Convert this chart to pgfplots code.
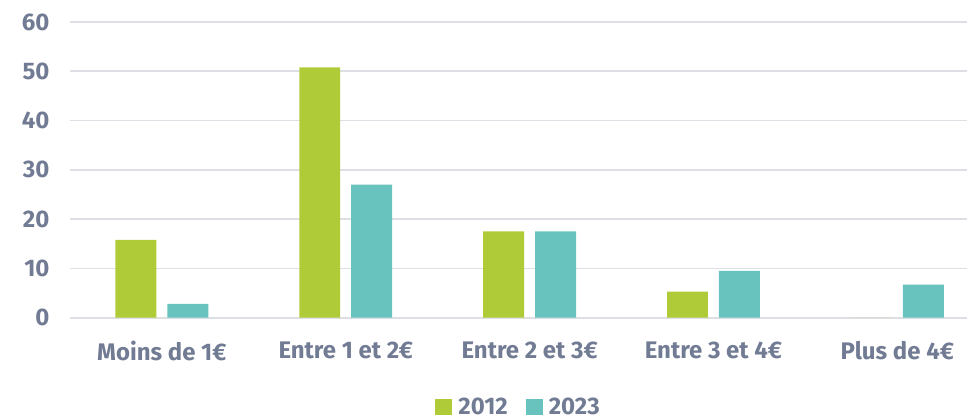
\documentclass[border=0pt]{standalone}
\usepackage{pgfplots}
\pgfplotsset{compat=1.18}
\usepackage{fontspec}
\setmainfont{Fira Sans}
\definecolor{green12}{HTML}{B0CB38}
\definecolor{teal23}{HTML}{68C3BF}
\definecolor{txt}{HTML}{717B93}
\definecolor{gridc}{HTML}{DEDFE5}
\begin{document}
\begin{tikzpicture}
\begin{axis}[
  scale only axis,
  width=898pt, height=296pt,
  xmin=-0.5, xmax=4.38,
  ymin=0, ymax=60,
  ybar=11pt,
  bar width=41pt,
  axis line style={draw=none},
  tick style={draw=none},
  ymajorgrids,
  grid style={gridc, line width=1.6pt},
  ytick={0,10,...,60},
  xtick={0,1,2,3,4},
  xticklabels={Moins de 1€,Entre 1 et 2€,Entre 2 et 3€,Entre 3 et 4€,Plus de 4€},
  /pgf/number format/assume math mode=true,
  every tick label/.append style={font=\fontsize{24}{28}\selectfont\bfseries, text=txt},
  yticklabel style={xshift=-17pt},
  xticklabel style={yshift=-16pt},
  legend style={at={(0.5,0)}, anchor=north, yshift=-76pt, legend columns=2, draw=none,
    font=\fontsize{24}{28}\selectfont\bfseries, text=txt,
    /tikz/every even column/.append style={column sep=16pt}},
  legend image code/.code={\fill[#1] (0pt,-8pt) rectangle (17pt,8pt); \path (21pt,0pt);},
  clip=false,
]
\addplot[fill=green12, draw=none] coordinates {(0,15.8) (1,50.8) (2,17.5) (3,5.3) (4,0)};
\addplot[fill=teal23, draw=none] coordinates {(0,2.8) (1,27.0) (2,17.5) (3,9.5) (4,6.7)};
\legend{2012,2023}
\end{axis}
\path ([xshift=-70pt,yshift=-99pt]current axis.south west) rectangle ([yshift=22pt]current axis.north east);
\end{tikzpicture}
\end{document}
